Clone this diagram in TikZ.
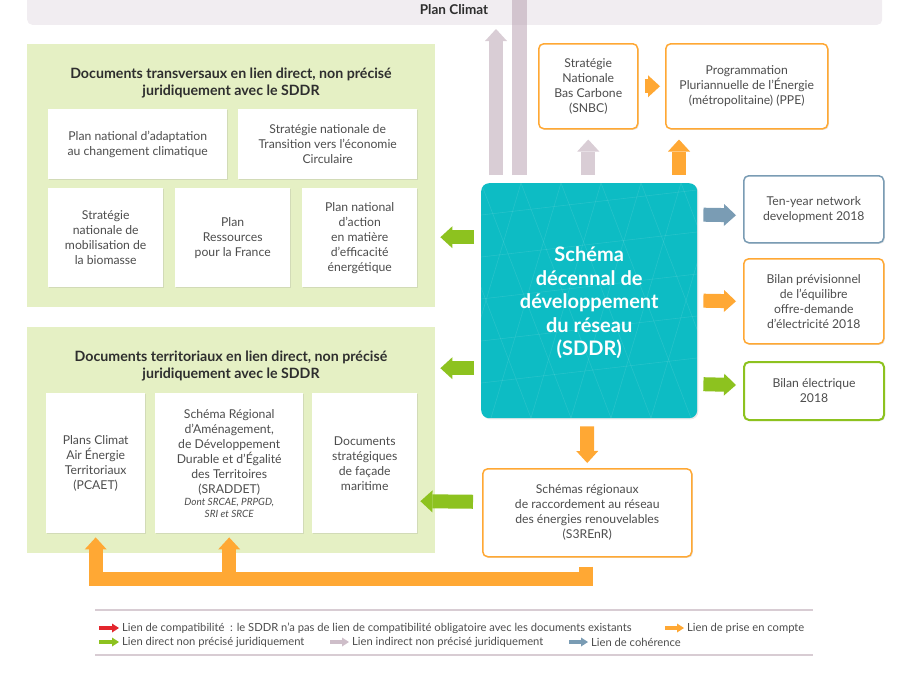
\documentclass[tikz,border=0pt]{standalone}
\usepackage{fontspec}
\setmainfont{Lato}
\usetikzlibrary{arrows.meta,shadows,positioning}

\definecolor{sdgreen}{HTML}{8DC21F}
\definecolor{sdpanel}{HTML}{E5F0C4}
\definecolor{sdorange}{HTML}{FFA834}
\definecolor{sdmauve}{HTML}{D9CDD5}
\definecolor{sdmauvedark}{HTML}{B9A3B2}
\definecolor{sdblue}{HTML}{7A9CB4}
\definecolor{sdteal}{HTML}{0DBCC4}
\definecolor{sdred}{HTML}{E3262D}
\definecolor{sdbanner}{HTML}{F1EDF1}
\definecolor{sdtext}{HTML}{4D4D4D}
\definecolor{sdtitle}{HTML}{2E2E2E}
\definecolor{sdline}{HTML}{D8CCD3}

\tikzset{
  banner/.style={fill=sdbanner, rounded corners=5pt, inner sep=0pt},
  bannertitle/.style={text=sdtitle, font=\bfseries\fontsize{13.5}{16}\selectfont},
  panel/.style={fill=sdpanel, inner sep=0pt, anchor=north west},
  paneltitle/.style={align=center, text=sdtitle, font=\bfseries\fontsize{14.2}{17}\selectfont},
  doc/.style={fill=white, anchor=north west, inner sep=0pt, align=center, text=sdtext,
    font=\fontsize{12.2}{15}\selectfont,
    drop shadow={opacity=0.18, shadow xshift=1.2pt, shadow yshift=-1.2pt}},
  outbox/.style={doc, rounded corners=5pt, line width=1.5pt},
  sddr/.style={fill=sdteal, rounded corners=8pt, anchor=north west, inner sep=0pt,
    drop shadow={opacity=0.18, shadow xshift=1.2pt, shadow yshift=-1.2pt}},
  mesh/.style={draw=white, draw opacity=0.10, line width=0.6pt},
  fatarr/.style={line width=14pt, -{Triangle[width=22pt,length=12pt,line width=0pt]}},
  greenarr/.style={fatarr, draw=sdgreen},
  orangearr/.style={fatarr, draw=sdorange},
  mauvearr/.style={fatarr, draw=sdmauve},
  bluearr/.style={fatarr, draw=sdblue},
  mauvebar/.style={line width=15pt, draw=sdmauvedark, draw opacity=0.55},
  legline/.style={draw=sdline, line width=1.5pt},
  legarr/.style={line width=4.5pt, -{Triangle[width=9pt,length=7pt,line width=0pt]}},
  legtext/.style={anchor=west, inner sep=0pt, text=sdtext, font=\fontsize{11.2}{13}\selectfont}
}

\begin{document}
\begin{tikzpicture}[x=1pt,y=-1pt]
\useasboundingbox (0,0) rectangle (923,678);

% Plan Climat
\node[banner, minimum width=855pt, minimum height=45pt, anchor=south west] (climat) at (27,25) {};
\node[bannertitle] (climattitle) at (454,10) {Plan Climat};

% documents transversaux
\node[panel, minimum width=408pt, minimum height=263pt] (trans) at (27,44) {};
\node[paneltitle] (transtitle) at (231,82.5) {Documents transversaux en lien direct, non précisé\\juridiquement avec le SDDR};
\node[doc, minimum width=179pt, minimum height=70pt] (adapt) at (48,109) {Plan national d'adaptation\\au changement climatique};
\node[doc, minimum width=179pt, minimum height=70pt] (circ) at (238,109) {Stratégie nationale de\\Transition vers l'économie\\Circulaire};
\node[doc, minimum width=115pt, minimum height=99pt] (biom) at (48,188) {Stratégie\\nationale de\\mobilisation de\\la biomasse};
\node[doc, minimum width=115pt, minimum height=99pt] (ressources) at (175,188) {Plan\\Ressources\\pour la France};
\node[doc, minimum width=115pt, minimum height=99pt] (effic) at (302,188) {Plan national\\d'action\\en matière\\d'efficacité\\énergétique};

% documents territoriaux
\node[panel, minimum width=408pt, minimum height=226pt] (terr) at (27,327) {};
\node[paneltitle] (terrtitle) at (231,366) {Documents territoriaux en lien direct, non précisé\\juridiquement avec le SDDR};
\node[doc, minimum width=99pt, minimum height=140pt] (pcaet) at (46,393) {Plans Climat\\Air Énergie\\Territoriaux\\(PCAET)};
\node[doc, minimum width=148pt, minimum height=140pt] (sraddet) at (155,393) {Schéma Régional\\d'Aménagement,\\de Développement\\Durable et d'Égalité\\des Territoires\\(SRADDET)\\[-3pt]
  {\itshape\fontsize{10}{12}\selectfont Dont SRCAE, PRPGD,}\\[-3pt]{\itshape\fontsize{10}{12}\selectfont SRI et SRCE}};
\node[doc, minimum width=105pt, minimum height=140pt] (facade) at (312,393) {Documents\\stratégiques\\de façade\\maritime};

% SDDR
\node[sddr, minimum width=216pt, minimum height=235pt] (sddr) at (481,183) {};
\begin{scope}
  \clip[rounded corners=8pt] (sddr.north west) rectangle (sddr.south east);
  \foreach \i in {0,...,7} {
    \draw[mesh] ([xshift=\i*40pt-40pt]sddr.north west) -- ++(90,235);
    \draw[mesh] ([xshift=\i*40pt-40pt]sddr.north west) -- ++(-70,235);
  }
  \foreach \j in {1,...,5} {
    \draw[mesh] ([yshift=-\j*42pt+10pt]sddr.north west) -- ++(216,-25);
  }
\end{scope}
\node[align=center, text=white, font=\bfseries\fontsize{20}{23.5}\selectfont] (sddrtext) at ([yshift=-2pt]sddr.center) {Schéma\\décennal de\\développement\\du réseau\\(SDDR)};

% autres documents
\node[outbox, draw=sdorange, minimum width=99pt, minimum height=85pt] (snbc) at (538,43) {Stratégie\\Nationale\\Bas Carbone\\(SNBC)};
\node[outbox, draw=sdorange, minimum width=162pt, minimum height=85pt] (ppe) at (665,43) {Programmation\\Pluriannuelle de l'Énergie\\(métropolitaine) (PPE)};
\node[outbox, draw=sdblue, minimum width=140pt, minimum height=67pt] (tyndp) at (743,175) {Ten-year network\\development 2018};
\node[outbox, draw=sdorange, minimum width=140pt, minimum height=85pt] (bp) at (743,258) {Bilan prévisionnel\\de l'équilibre\\offre-demande\\d'électricité 2018};
\node[outbox, draw=sdgreen, line width=2pt, minimum width=140pt, minimum height=58pt] (be) at (743,361) {Bilan électrique\\2018};
\node[outbox, draw=sdorange, minimum width=209pt, minimum height=88pt] (s3) at (482,468) {Schémas régionaux\\de raccordement au réseau\\des énergies renouvelables\\(S3REnR)};

% liens vers le haut
\coordinate (pc1) at ([xshift=15pt,yshift=8pt]sddr.north west);
\coordinate (ppeup) at ([xshift=14pt]ppe.south west);
\draw[mauvearr, shorten >=4pt] (pc1) -- (pc1 |- climat.south);
\draw[mauvebar] ([xshift=23.5pt]pc1) -- ([xshift=23.5pt]pc1 |- climat.north);
\draw[mauvearr] (snbc.south |- pc1) -- ([yshift=-10pt]snbc.south);
\draw[orangearr] (ppeup |- pc1) -- ([yshift=-10pt]ppeup);
\draw[orangearr] ([xshift=6pt]snbc.east) -- ([xshift=-5pt]ppe.west);

% liens vers la droite
\draw[bluearr] ([xshift=6pt,yshift=86pt]sddr.east) -- ([xshift=-7pt,yshift=-6pt]tyndp.west);
\draw[orangearr] ([xshift=6pt]sddr.east) -- ([xshift=-7pt]bp.west);
\draw[greenarr] ([xshift=6pt,yshift=-83.5pt]sddr.east) -- ([xshift=-7pt,yshift=6pt]be.west);

% liens vers la gauche
\draw[greenarr] ([xshift=-7pt,yshift=63.5pt]sddr.west) -- ([xshift=5pt,yshift=-61.5pt]trans.east);
\draw[greenarr] ([xshift=-7pt,yshift=-67.5pt]sddr.west) -- ([xshift=5pt,yshift=72pt]terr.east);
\draw[greenarr] ([xshift=-9pt,yshift=11pt]s3.west) -- ([xshift=3pt,yshift=-38pt]facade.east);

% S3REnR
\draw[orangearr] ([xshift=-2pt,yshift=-8pt]sddr.south) -- ([yshift=5pt]s3.north);
\draw[orangearr, line join=miter] ([xshift=-1.5pt,yshift=-9pt]s3.south) |- ([yshift=-46pt]pcaet.south) -- ([yshift=-4pt]pcaet.south);
\draw[orangearr] ([yshift=-40pt]sraddet.south) -- ([yshift=-4pt]sraddet.south);

% legende
\draw[legline] (95,610) -- (813,610);
\draw[legline] (95,655) -- (813,655);
\node[legtext] (lcompat) at (122,628) {Lien de compatibilité\ \ : le SDDR n'a pas de lien de compatibilité obligatoire avec les documents existants};
\node[legtext] (lprise) at (687,628) {Lien de prise en compte};
\node[legtext] (ldirect) at (122,642) {Lien direct non précisé juridiquement};
\node[legtext] (lindirect) at (352,642) {Lien indirect non précisé juridiquement};
\node[legtext] (lcoher) at (591,642) {Lien de cohérence};
\draw[legarr, sdred] ([xshift=-23pt]lcompat.west) -- ([xshift=-3pt]lcompat.west);
\draw[legarr, sdorange] ([xshift=-22pt]lprise.west) -- ([xshift=-3pt]lprise.west);
\draw[legarr, sdgreen] ([xshift=-23pt]ldirect.west) -- ([xshift=-3pt]ldirect.west);
\draw[legarr, sdmauvedark!70] ([xshift=-22pt]lindirect.west) -- ([xshift=-3pt]lindirect.west);
\draw[legarr, sdblue] ([xshift=-22pt]lcoher.west) -- ([xshift=-3pt]lcoher.west);
\end{tikzpicture}
\end{document}
